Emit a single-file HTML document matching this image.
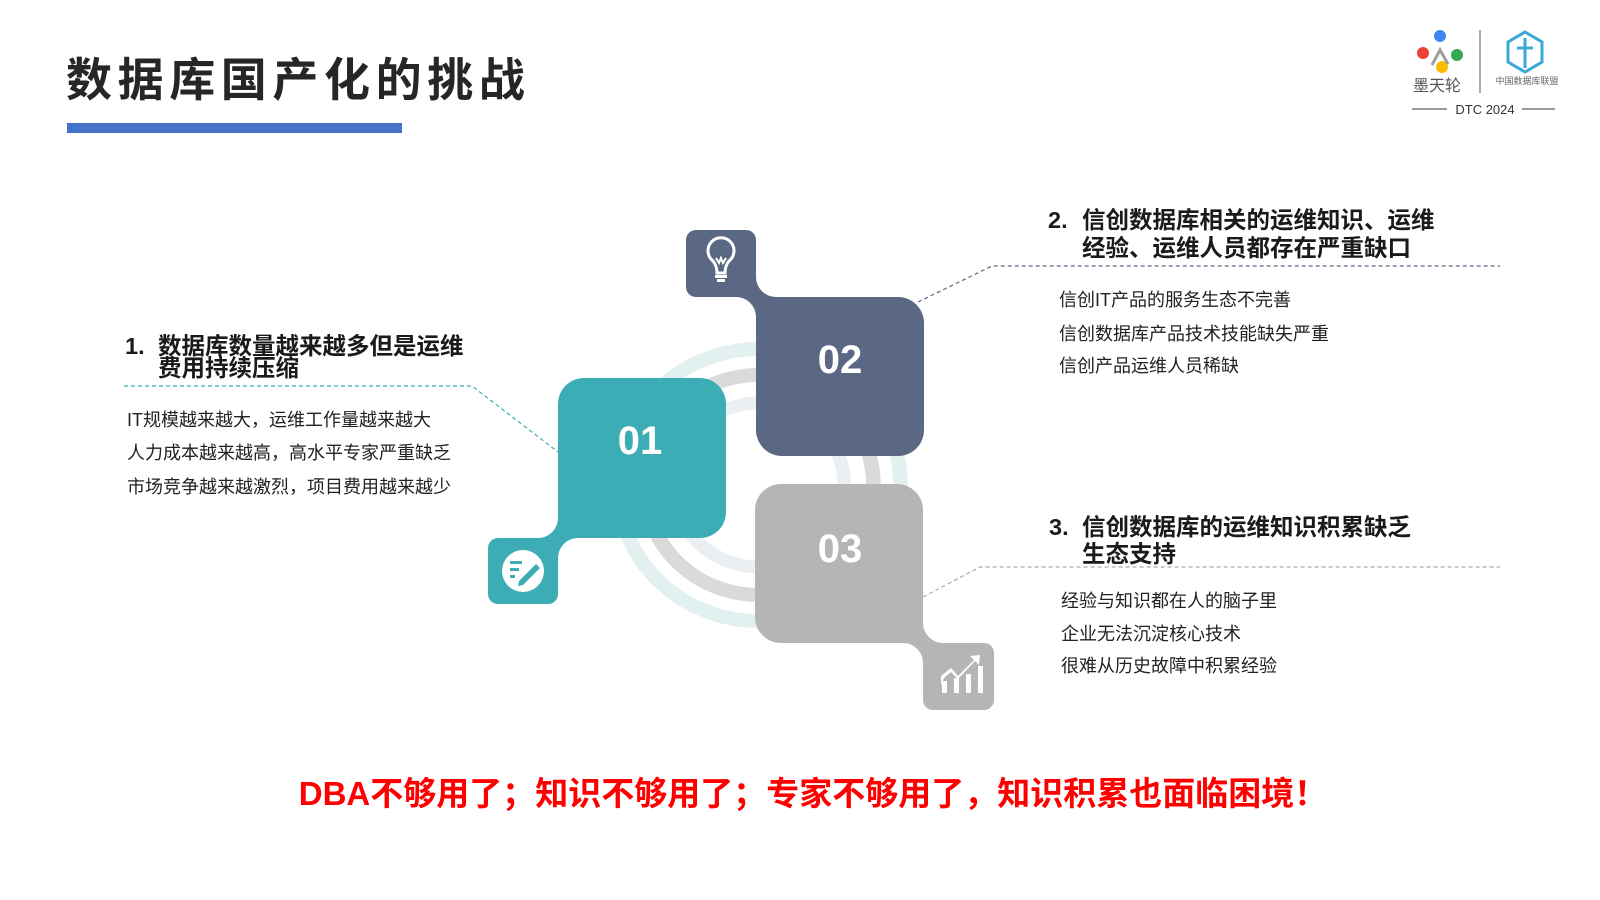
<!DOCTYPE html>
<html><head><meta charset="utf-8">
<style>
html,body{margin:0;padding:0;background:#fff;}
svg{display:block;}
text{font-family:"Liberation Sans","Noto Sans CJK SC",sans-serif;}
.h{font-size:23.5px;font-weight:bold;fill:#1a1a1a;}
.b{font-size:18px;fill:#222;}
.n{font-size:40px;font-weight:bold;fill:#fff;}
</style></head><body>
<svg width="1600" height="900" viewBox="0 0 1600 900" xmlns="http://www.w3.org/2000/svg">
<!-- title -->
<text x="66" y="96" style="font-size:46px;font-weight:bold;fill:#262626;letter-spacing:5.6px;font-family:'Liberation Sans','Noto Sans CJK SC',sans-serif">数据库国产化的挑战</text>
<rect x="67" y="123" width="335" height="10" fill="#4472c8"/>

<!-- logo -->
<g>
<circle cx="1440" cy="36" r="6" fill="#4285f4"/>
<circle cx="1457" cy="55" r="6" fill="#34a853"/>
<circle cx="1423" cy="53" r="6" fill="#ea4335"/>
<circle cx="1442" cy="67" r="6" fill="#fbbc05"/>
<path d="M1432 65 L1440 50 L1448 64" stroke="#9e9e9e" stroke-width="3" fill="none"/>
<text x="1437" y="91" text-anchor="middle" style="font-size:16px;fill:#555">墨天轮</text>
<line x1="1480" y1="30" x2="1480" y2="93" stroke="#555" stroke-width="1"/>
<path d="M1525 32 L1542 42 L1542 62 L1525 72 L1508 62 L1508 42 Z" fill="none" stroke="#3aa8d8" stroke-width="3"/>
<path d="M1525 38 L1525 68 M1517 48 L1533 48" stroke="#3aa8d8" stroke-width="3"/>
<text x="1527" y="84" text-anchor="middle" style="font-size:9px;fill:#666">中国数据库联盟</text>
<line x1="1412" y1="109" x2="1447" y2="109" stroke="#333"/>
<line x1="1522" y1="109" x2="1555" y2="109" stroke="#333"/>
<text x="1485" y="114" text-anchor="middle" style="font-size:13px;fill:#333">DTC 2024</text>
</g>

<!-- rings -->
<g transform="translate(759,485) scale(1.04,1)">
<circle r="136" fill="none" stroke="#e3f0f0" stroke-width="14"/>
<circle r="110" fill="none" stroke="#dadada" stroke-width="14"/>
<circle r="82" fill="none" stroke="#eceff1" stroke-width="13"/>
</g>

<!-- 01 -->
<g fill="#3cadb4">
<rect x="558" y="378" width="168" height="160" rx="26"/>
<rect x="558" y="508" width="30" height="30"/>
<rect x="488" y="538" width="70" height="66" rx="10"/>
<rect x="528" y="538" width="30" height="30"/>
<path d="M558 538 L538 538 A20 20 0 0 0 558 518 Z"/>
<path d="M558 538 L578 538 A20 20 0 0 0 558 558 Z"/>
</g>
<text class="n" x="640" y="454" text-anchor="middle">01</text>
<circle cx="523" cy="571" r="21" fill="#fff"/>
<g fill="#3cadb4"><rect x="510" y="561" width="12" height="3"/><rect x="510" y="568" width="9" height="3"/><rect x="510" y="575" width="5" height="3"/>
<path d="M519 581 L536 564 L540 568 L523 585 L518 586 Z"/></g>

<!-- 02 -->
<g fill="#5b6883">
<rect x="756" y="297" width="168" height="159" rx="26"/>
<rect x="756" y="297" width="30" height="30"/>
<rect x="686" y="230" width="70" height="67" rx="10"/>
<rect x="726" y="267" width="30" height="30"/>
<path d="M756 297 L776 297 A20 20 0 0 1 756 277 Z"/>
<path d="M756 297 L736 297 A20 20 0 0 1 756 317 Z"/>
</g>
<text class="n" x="840" y="373" text-anchor="middle">02</text>
<g stroke="#fff" fill="none" stroke-width="3">
<path d="M717 273 Q717 266 713 261 A13 13 0 1 1 729 261 Q725 266 725 273 Z"/>
<path d="M716 258 L719 263 L721 258 L723 263 L726 258" stroke-width="2"/>
</g>
<rect x="715" y="275" width="12" height="3" fill="#fff"/><rect x="717" y="279" width="8" height="3" fill="#fff"/>

<!-- 03 -->
<g fill="#b5b5b5">
<rect x="755" y="484" width="168" height="159" rx="26"/>
<rect x="893" y="613" width="30" height="30"/>
<rect x="923" y="643" width="71" height="67" rx="10"/>
<rect x="923" y="643" width="30" height="30"/>
<path d="M923 643 L943 643 A20 20 0 0 1 923 623 Z"/>
<path d="M923 643 L903 643 A20 20 0 0 1 923 663 Z"/>
</g>
<text class="n" x="840" y="562" text-anchor="middle">03</text>
<g fill="#fff"><path d="M941 686 L941 676 L951 668 L958 676 L974 660 L970 656 L980 655 L979 665 L975 661 L958 679 L951 672 L944 678 Z"/>
<rect x="942" y="681" width="5" height="12"/><rect x="954" y="678" width="5" height="15"/><rect x="966" y="674" width="5" height="19"/><rect x="978" y="666" width="5" height="27"/></g>

<!-- connectors -->
<path d="M124 386 L472 386 L558 452" fill="none" stroke="#3cadb4" stroke-width="1.2" stroke-dasharray="4 3"/>
<path d="M918 302 L992 266 L1500 266" fill="none" stroke="#5b6883" stroke-width="1.2" stroke-dasharray="4 3"/>
<path d="M923 597 L980 567 L1500 567" fill="none" stroke="#aaa" stroke-width="1.2" stroke-dasharray="4 3"/>

<!-- text 1 -->
<text class="h" x="125" y="354">1.</text>
<text class="h" x="158" y="354">数据库数量越来越多但是运维</text>
<text class="h" x="158" y="376">费用持续压缩</text>
<text class="b" x="127" y="426">IT规模越来越大，运维工作量越来越大</text>
<text class="b" x="127" y="459">人力成本越来越高，高水平专家严重缺乏</text>
<text class="b" x="127" y="493">市场竞争越来越激烈，项目费用越来越少</text>

<!-- text 2 -->
<text class="h" x="1048" y="228">2.</text>
<text class="h" x="1082" y="228">信创数据库相关的运维知识、运维</text>
<text class="h" x="1082" y="256">经验、运维人员都存在严重缺口</text>
<text class="b" x="1059" y="306">信创IT产品的服务生态不完善</text>
<text class="b" x="1059" y="340">信创数据库产品技术技能缺失严重</text>
<text class="b" x="1059" y="372">信创产品运维人员稀缺</text>

<!-- text 3 -->
<text class="h" x="1049" y="535">3.</text>
<text class="h" x="1082" y="535">信创数据库的运维知识积累缺乏</text>
<text class="h" x="1082" y="562">生态支持</text>
<text class="b" x="1061" y="607">经验与知识都在人的脑子里</text>
<text class="b" x="1061" y="640">企业无法沉淀核心技术</text>
<text class="b" x="1061" y="672">很难从历史故障中积累经验</text>

<!-- bottom -->
<text x="813" y="805" text-anchor="middle" style="font-size:33px;font-weight:bold;fill:#ff0000">DBA不够用了；知识不够用了；专家不够用了，知识积累也面临困境！</text>
</svg>
</body></html>
